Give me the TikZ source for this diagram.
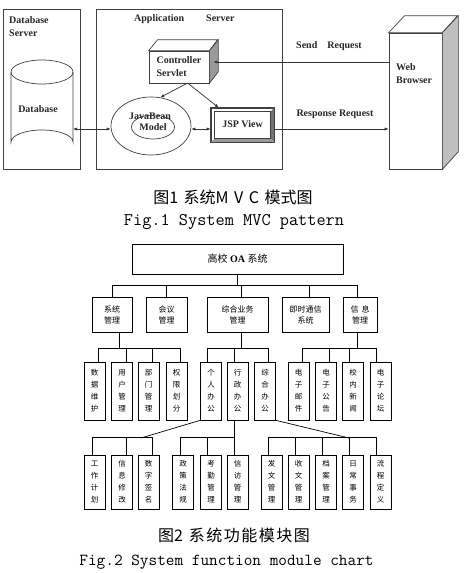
\documentclass[tikz,border=0pt]{standalone}
\usepackage{fontspec}
\setmainfont{Liberation Serif}
\newfontfamily\cjk{Noto Sans CJK SC}
\usetikzlibrary{shapes.geometric,arrows.meta}
\begin{document}
\begin{tikzpicture}[x=1pt,y=-1pt,
  frame/.style={draw=black!75, line width=0.7pt},
  en/.style={font=\bfseries\fontsize{10}{13}\selectfont, inner sep=0pt, text=black!85},
  arr/.style={draw=black!80, line width=0.7pt, -{Latex[length=4pt,width=3.2pt]}},
  barr/.style={draw=black!80, line width=0.7pt, {Latex[length=4pt,width=3.2pt]}-{Latex[length=4pt,width=3.2pt]}},
  mbox/.style={draw, line width=0.7pt, inner sep=0pt, font=\cjk\fontsize{8}{11}\selectfont, align=center, minimum height=35},
  vbox/.style={draw, line width=0.7pt, inner sep=0pt, font=\cjk\fontsize{7.5}{12}\selectfont, align=center, minimum width=21},
  l3/.style={vbox, minimum height=58},
  l4/.style={vbox, minimum height=54},
  link/.style={draw, line width=0.7pt},
]
\useasboundingbox (0,0) rectangle (467,573);

% ---------------- Figure 1 ----------------
\node[frame, minimum width=77, minimum height=160, inner sep=0] (dbsrv) at (41.5,89) {};
\node[frame, minimum width=186, minimum height=160, inner sep=0] (appsrv) at (189,89) {};
\node[en, anchor=north west, align=left] (dbsrvtxt) at (9,16.5) {Database\\Server};
\node[en, anchor=west] (apptxt) at (134,19) {Application\hspace{22pt}Server};

% cylinder
\draw[frame] (11,72) -- (11,142) arc[start angle=180, end angle=360, x radius=31, y radius=12] -- (73,72);
\draw[frame] (42,72) ellipse [x radius=31, y radius=12];
\node[en] (db) at (38,109) {Database};

% controller 3D box
\node[frame, fill=white, minimum width=60, minimum height=32, inner sep=0] (ctrl) at (179,67) {};
\filldraw[frame, fill=white] (ctrl.north west) -- ++(9,-11) -- ++(60,0) -- (ctrl.north east) -- cycle;
\filldraw[frame, fill=black!40] (ctrl.north east) -- ++(9,-11) -- ++(0,32) -- (ctrl.south east) -- cycle;
\node[en, align=left] (ctrltxt) at (179,66.5) {Controller\\Servlet};

% model ellipse
\node[frame, ellipse, minimum width=80, minimum height=58, inner sep=0] (model) at (151,126) {};
\node[frame, ellipse, minimum width=43, minimum height=24, inner sep=0, en] (modeli) at (153,127) {Model};
\node[en] (jb) at (150,116) {JavaBean};

% JSP view
\node[frame, fill=white, minimum width=63, minimum height=34, inner sep=0] (jsp) at (242.5,125) {};
\fill[black!55] (jsp.north east) -- ([shift={(-4,4)}]jsp.north east) -- ([shift={(-4,-4)}]jsp.south east) -- (jsp.south east) -- cycle;
\fill[black!40] (jsp.south west) -- ([shift={(4,-4)}]jsp.south west) -- ([shift={(-4,-4)}]jsp.south east) -- (jsp.south east) -- cycle;
\draw[frame] (jsp.north west) rectangle (jsp.south east);
\draw[frame] ([shift={(4,4)}]jsp.north west) rectangle ([shift={(-4,-4)}]jsp.south east);
\node[en] (jsptxt) at (242.5,124) {JSP View};

% web browser
\node[frame, fill=white, minimum width=53, minimum height=136, inner sep=0] (web) at (415.5,101) {};
\filldraw[frame, fill=white] (web.north west) -- ++(16,-17) -- ++(53,0) -- (web.north east) -- cycle;
\filldraw[frame, fill=black!25] (web.north east) -- ++(16,-17) -- ++(0,136) -- (web.south east) -- cycle;
\node[en, anchor=north west, align=left] (webtxt) at (396,63.5) {Web\\Browser};

% connectors
\coordinate (dbR) at (73,129);
\coordinate (ar) at (0,129);
\coordinate (sy) at (0,62);
\draw[barr] (dbR) -- (dbR -| model.west);
\draw[barr] (model.east |- ar) -- (jsp.west |- ar);
\draw[arr] (jsp.east |- ar) -- (web.west |- ar);
\draw[arr] (web.west |- sy) -- ([shift={(4,-5)}]ctrl.east);
\draw[arr] ([xshift=8]ctrl.south) -- (model.72);
\draw[arr] ([xshift=9]ctrl.south) -- ([xshift=8]jsp.north west);
\node[en] (sendtxt) at (329,46) {Send\hspace{10pt}Request};
\node[en] (resptxt) at (335,114) {Response Request};

% captions 1
\node[inner sep=0] (cap1a) at (233,197) {\cjk\fontsize{16}{16}\selectfont 图1\hspace{5.5pt}系统M\hspace{5.5pt}V\hspace{5.5pt}C\hspace{5.5pt}模式图};
\node[inner sep=0] (cap1b) at (234,222) {\ttfamily\fontsize{17.8}{18}\selectfont Fig.1 System MVC pattern};

% ---------------- Figure 2 ----------------
\node[draw, line width=0.7pt, minimum width=211, minimum height=30, inner sep=0] (top) at (237.5,259)
  {\fontsize{10}{12}\selectfont{\cjk 高校} \textbf{OA} {\cjk 系统}};

\node[mbox, minimum width=40] (l2a) at (112,314.5) {系统\\管理};
\node[mbox, minimum width=41] (l2b) at (166.5,314.5) {会议\\管理};
\node[mbox, minimum width=61] (l2c) at (237.5,314.5) {综合业务\\管理};
\node[mbox, minimum width=47] (l2d) at (305.5,314.5) {即时通信\\系统};
\node[mbox, minimum width=34] (l2e) at (360,314.5) {信\hspace{3pt}息\\管理};

\node[l3] (l3a) at (94.5,391) {数\\据\\维\\护};
\node[l3] (l3b) at (122,391) {用\\户\\管\\理};
\node[l3] (l3c) at (148.5,391) {部\\门\\管\\理};
\node[l3] (l3d) at (176.5,391) {权\\限\\划\\分};
\node[l3] (l3e) at (211,391) {个\\人\\办\\公};
\node[l3] (l3f) at (237.5,391) {行\\政\\办\\公};
\node[l3] (l3g) at (265,391) {综\\合\\办\\公};
\node[l3] (l3h) at (298.5,391) {电\\子\\邮\\件};
\node[l3] (l3i) at (326,391) {电\\子\\公\\告};
\node[l3] (l3j) at (353,391) {校\\内\\新\\闻};
\node[l3] (l3k) at (380.5,391) {电\\子\\论\\坛};

\node[l4] (l4a) at (94.5,482) {工\\作\\计\\划};
\node[l4] (l4b) at (122,482) {信\\息\\修\\改};
\node[l4] (l4c) at (148.5,482) {数\\字\\签\\名};
\node[l4] (l4d) at (183,482) {政\\策\\法\\规};
\node[l4] (l4e) at (211,482) {考\\勤\\管\\理};
\node[l4] (l4f) at (237.5,482) {信\\访\\管\\理};
\node[l4] (l4g) at (271.5,482) {发\\文\\管\\理};
\node[l4] (l4h) at (298.5,482) {收\\文\\管\\理};
\node[l4] (l4i) at (326,482) {档\\案\\管\\理};
\node[l4] (l4j) at (353,482) {日\\常\\事\\务};
\node[l4] (l4k) at (380.5,482) {流\\程\\定\\义};

% level 1 -> 2
\draw[link] (top.south) -- ++(0,12);
\draw[link] (l2a.north) -- ++(0,-11) -| ([xshift=-3]l2e.north);
\draw[link] ([xshift=-0.5]l2b.north) -- ++(0,-11);
\draw[link] ([xshift=3.5]l2c.north) -- ++(0,-11);
\draw[link] ([xshift=3.5]l2d.north) -- ++(0,-11);

% level 2 -> 3
\draw[link] ([xshift=7]l2a.south) -- ++(0,17);
\draw[link] ([xshift=3.5]l3a.north) -- ++(0,-13) -| ([xshift=3.5]l3d.north);
\draw[link] ([xshift=4]l3b.north) -- ++(0,-13);
\draw[link] ([xshift=3.5]l3c.north) -- ++(0,-13);

\draw[link] ([xshift=3.5]l2c.south) -- ++(0,17);
\draw[link] ([xshift=-4]l3e.north) -- ++(0,-13) -| ([xshift=3]l3g.north);
\draw[link] ([xshift=-3.5]l3f.north) -- ++(0,-13);

\draw[link] ([xshift=-3]l2e.south) -- ++(0,17);
\draw[link] ([xshift=3.5]l3h.north) -- ++(0,-13) -| ([xshift=-4.5]l3k.north);
\draw[link] ([xshift=3]l3i.north) -- ++(0,-13);
\draw[link] ([xshift=-4]l3j.north) -- ++(0,-13);

% level 3 -> 4
\coordinate (s1) at (141,438);
\coordinate (s2) at (349,438);
\draw[link] (l3e.south west) -- (s1);
\draw[link] ([xshift=-2.5]l4a.north) -- ++(0,-17) -| ([xshift=3.5]l4c.north);
\draw[link] ([xshift=4]l4b.north) -- ++(0,-17);

\draw[link] ([xshift=-3.5]l3f.south) -- ++(0,18);
\draw[link] ([xshift=-3]l4d.north) -- ++(0,-17) -| ([xshift=-3.5]l4f.north);
\draw[link] ([xshift=-4]l4e.north) -- ++(0,-17);

\draw[link] (l3g.south east) -- (s2);
\draw[link] ([xshift=-3.5]l4g.north) -- ++(0,-17) -| ([xshift=-4.5]l4k.north);
\draw[link] ([xshift=-3.5]l4h.north) -- ++(0,-17);
\draw[link] ([xshift=-4]l4i.north) -- ++(0,-17);
\draw[link] ([xshift=-4]l4j.north) -- ++(0,-17);

% captions 2
\node[inner sep=0] (cap2a) at (234,535) {\cjk\fontsize{16}{16}\selectfont 图2\hspace{6pt}系\hspace{1.5pt}统\hspace{1.5pt}功\hspace{1.5pt}能\hspace{1.5pt}模\hspace{1.5pt}块\hspace{1.5pt}图};
\node[inner sep=0] (cap2b) at (226.5,562) {\ttfamily\fontsize{16.8}{18}\selectfont Fig.2 System function module chart};
\end{tikzpicture}
\end{document}
